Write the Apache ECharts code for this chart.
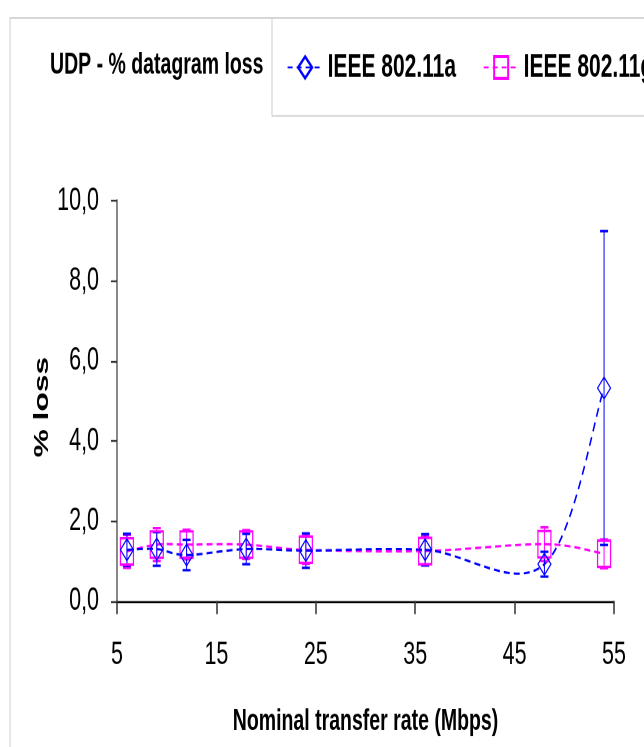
<!DOCTYPE html>
<html>
<head>
<meta charset="utf-8">
<script src="https://cdn.jsdelivr.net/npm/echarts@6/dist/echarts.min.js"></script>
<style>
  html, body { margin: 0; padding: 0; background: #ffffff; overflow: hidden; }
  #wrap { position: absolute; left: 0; top: 0; width: 644px; height: 482px;
          transform: scale(1, 1.5498); transform-origin: 0 0; }
  #main { width: 644px; height: 482px; }
</style>
</head>
<body>
<div id="wrap"><div id="main"></div></div>
<script>
// ---- data ----
const rates = [6, 9, 12, 18, 24, 36, 48, 54];            // nominal transfer rate (Mbps)
const lossA = [1.28, 1.30, 1.15, 1.30, 1.26, 1.28, 0.92, 5.32]; // IEEE 802.11a mean % loss
const errA  = [0.40, 0.42, 0.38, 0.38, 0.43, 0.39, 0.31, 3.92]; // 802.11a error (+/-)
const lossG = [1.24, 1.41, 1.41, 1.41, 1.28, 1.25, 1.42, 1.18]; // IEEE 802.11g mean % loss
const errG  = [0.41, 0.41, 0.37, 0.36, 0.35, 0.36, 0.42, 0.36]; // 802.11g error (+/-)
const xTicks = [5, 15, 25, 35, 45, 55];
const yTicks = [0, 2, 4, 6, 8, 10];
const nameA = 'IEEE 802.11a';
const nameG = 'IEEE 802.11g';
const chartTitle = 'UDP - % datagram loss';
const xTitle = 'Nominal transfer rate (Mbps)';
const yTitle = '% loss';

const BLUE = '#0000ff';
const MAGENTA = '#ff00ff';
const FONT = "'Liberation Sans', Arial, sans-serif";
const FS = 19.5;

const chart = echarts.init(document.getElementById('main'), null, { renderer: 'canvas', devicePixelRatio: 2 });

function pts(vals) { return rates.map((r, i) => [r, vals[i]]); }

// Excel-like smoothed curve segments (Catmull-Rom bezier) computed through the axis scales
function curveRender(vals, color) {
  return function (params, api) {
    const n = rates.length;
    const i = params.dataIndex;
    const c = k => { k = Math.max(0, Math.min(n - 1, k)); return api.coord([rates[k], vals[k]]); };
    const p0 = c(i - 1), p1 = c(i), p2 = c(i + 1), p3 = c(i + 2);
    const t = 1 / 6;
    return {
      type: 'bezierCurve',
      shape: {
        x1: p1[0], y1: p1[1], x2: p2[0], y2: p2[1],
        cpx1: p1[0] + (p2[0] - p0[0]) * t, cpy1: p1[1] + (p2[1] - p0[1]) * t,
        cpx2: p2[0] - (p3[0] - p1[0]) * t, cpy2: p2[1] - (p3[1] - p1[1]) * t
      },
      style: { stroke: color, fill: null, lineWidth: 1.5, lineDash: [6, 4] }
    };
  };
}

function errRender(vals, errs, color) {
  return function (params, api) {
    const i = params.dataIndex;
    const top = api.coord([rates[i], vals[i] + errs[i]]);
    const bot = api.coord([rates[i], vals[i] - errs[i]]);
    const hw = 4;
    return {
      type: 'group',
      children: [
        { type: 'line', shape: { x1: top[0], y1: top[1], x2: bot[0], y2: bot[1] }, style: { stroke: color, lineWidth: 1 } },
        { type: 'line', shape: { x1: top[0] - hw, y1: top[1], x2: top[0] + hw, y2: top[1] }, style: { stroke: color, lineWidth: 1.6 } },
        { type: 'line', shape: { x1: bot[0] - hw, y1: bot[1], x2: bot[0] + hw, y2: bot[1] }, style: { stroke: color, lineWidth: 1.6 } }
      ]
    };
  };
}

const option = {
  animation: false,
  backgroundColor: '#ffffff',
  textStyle: { fontFamily: FONT },
  title: {
    text: chartTitle, left: 50, top: 32, padding: 0,
    textStyle: { fontFamily: FONT, fontSize: FS, fontWeight: 'bold', color: '#000' }
  },
  legend: {
    left: 287, top: 33, width: 700, padding: 0,
    itemWidth: 35, itemHeight: 17.5, itemGap: 27,
    textStyle: { fontFamily: FONT, fontSize: 21, fontWeight: 'bold', color: '#000' },
    data: [
      { name: nameA, lineStyle: { color: BLUE, width: 1.2, type: [5, 4], opacity: 1 } },
      { name: nameG, lineStyle: { color: MAGENTA, width: 1.2, type: [5, 4], opacity: 1 } }
    ]
  },
  graphic: [
    { type: 'polyline', silent: true, shape: { points: [[10, 482], [10, 11.6], [644, 11.6]] }, style: { stroke: '#c8c8c8', lineWidth: 0.9, fill: null } },
    { type: 'polyline', silent: true, shape: { points: [[272, 11.6], [272, 74.8], [644, 74.8]] }, style: { stroke: '#c8c8c8', lineWidth: 0.9, fill: null } }
  ],
  grid: { left: 117, right: 30, top: 129.5, bottom: 94.2, containLabel: false },
  xAxis: {
    type: 'value', min: xTicks[0], max: xTicks[xTicks.length - 1], interval: xTicks[1] - xTicks[0],
    name: xTitle, nameLocation: 'middle', nameGap: 68, nameMoveOverlap: false,
    nameTextStyle: { fontFamily: FONT, fontSize: FS, fontWeight: 'bold', color: '#000' },
    axisLine: { lineStyle: { color: '#000', width: 1.3 } },
    axisTick: { show: true, inside: false, length: 8.4, lineStyle: { color: '#333', width: 1.5 } },
    axisLabel: { margin: 24, fontFamily: FONT, fontSize: 21.5, color: '#000' },
    splitLine: { show: false }
  },
  yAxis: {
    type: 'value', min: yTicks[0], max: yTicks[yTicks.length - 1], interval: yTicks[1] - yTicks[0],
    name: yTitle, nameLocation: 'middle', nameGap: 64, nameRotate: 90, nameMoveOverlap: false,
    nameTextStyle: { fontFamily: FONT, fontSize: 20.5, fontWeight: 'bold', color: '#000', padding: [0, 8, 0, 0] },
    axisLine: { show: true, lineStyle: { color: '#888', width: 2 } },
    axisTick: { show: true, inside: false, length: 6, lineStyle: { color: '#333', width: 1.2 } },
    axisLabel: { margin: 18, fontFamily: FONT, fontSize: 21.5, color: '#000',
      formatter: v => v.toFixed(1).replace('.', ',') },
    splitLine: { show: false }
  },
  series: [
    { type: 'custom', name: 'curveG', silent: true, renderItem: curveRender(lossG, MAGENTA),
      data: pts(lossG).slice(0, rates.length - 1), encode: { x: 0, y: 1 }, z: 2 },
    { type: 'custom', name: 'curveA', silent: true, renderItem: curveRender(lossA, BLUE),
      data: pts(lossA).slice(0, rates.length - 1), encode: { x: 0, y: 1 }, z: 3 },
    { type: 'custom', name: 'errG', silent: true, renderItem: errRender(lossG, errG, MAGENTA),
      data: pts(lossG), encode: { x: 0, y: 1 }, z: 4 },
    { type: 'custom', name: 'errA', silent: true, renderItem: errRender(lossA, errA, BLUE),
      data: pts(lossA), encode: { x: 0, y: 1 }, z: 5 },
    { type: 'line', name: nameG, data: pts(lossG), symbol: 'rect', symbolSize: [13, 17],
      showSymbol: true, showAllSymbol: true,
      lineStyle: { color: MAGENTA, width: 0, opacity: 0 },
      itemStyle: { color: 'transparent', borderColor: MAGENTA, borderWidth: 1.4 }, z: 6 },
    { type: 'line', name: nameA, data: pts(lossA), symbol: 'diamond', symbolSize: [13, 14],
      showSymbol: true, showAllSymbol: true,
      lineStyle: { color: BLUE, width: 0, opacity: 0 },
      itemStyle: { color: 'transparent', borderColor: BLUE, borderWidth: 1 }, z: 7 }
  ]
};
chart.setOption(option);
</script>
</body>
</html>
